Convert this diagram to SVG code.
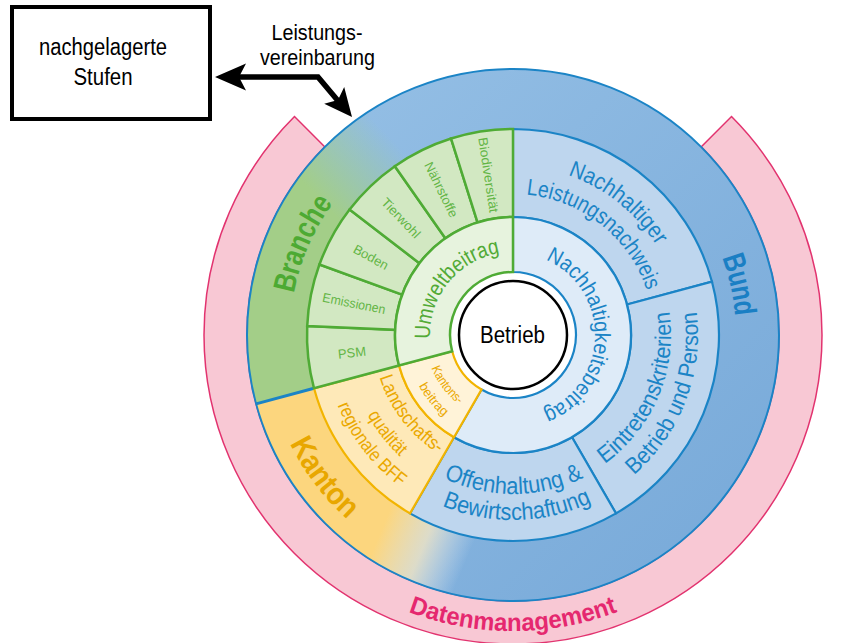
<svg xmlns="http://www.w3.org/2000/svg" width="843" height="643" viewBox="0 0 843 643">
<style>
text{font-family:'Liberation Sans Narrow','Liberation Sans',Arial,sans-serif;}
.bl{fill:#1b84c6}
.gr{fill:#52aa36}
.ye{fill:#eaa800}
.bold{font-weight:bold}
.sb{stroke:#1b84c6;stroke-width:2.2}
.sg{stroke:#4fab35;stroke-width:2.5}
.sy{stroke:#f2b400;stroke-width:2.2}
.small{font-size:13px;fill:#62b545;text-anchor:middle}
.mid{text-anchor:middle}
</style>
<defs>
<linearGradient id="gBlue" x1="0" y1="0" x2="1" y2="1">
<stop offset="0" stop-color="#97c1e6"/>
<stop offset="1" stop-color="#76a8d8"/>
</linearGradient>
<linearGradient id="gGreen" gradientUnits="userSpaceOnUse" x1="320" y1="200" x2="388" y2="135">
<stop offset="0" stop-color="#a3ce88" stop-opacity="1"/>
<stop offset="1" stop-color="#a3ce88" stop-opacity="0"/>
</linearGradient>
<linearGradient id="gYellow" gradientUnits="userSpaceOnUse" x1="381" y1="531" x2="464" y2="566">
<stop offset="0" stop-color="#fcd67e" stop-opacity="1"/>
<stop offset="0.5" stop-color="#f3e6c4" stop-opacity="0.8"/>
<stop offset="1" stop-color="#e8eef5" stop-opacity="0"/>
</linearGradient>
<path id="pBranche" d="M 299.18 398.34 A 223 223 0 0 1 413.50 135.43"/>
<path id="pBund" d="M 648.45 157.85 A 223 223 0 0 1 710.98 437.62"/>
<path id="pKanton" d="M 265.15 343.66 A 248 248 0 0 0 436.36 570.86"/>
<path id="pDaten" d="M 322.73 561.75 A 296 296 0 0 0 703.27 561.75"/>
<path id="pNL1" d="M 479.31 169.39 A 169 169 0 0 1 681.94 330.58"/>
<path id="pNL2" d="M 484.89 196.83 A 141 141 0 0 1 653.95 331.31"/>
<path id="pNB" d="M 528.65 254.51 A 82 82 0 0 1 525.83 415.99"/>
<path id="pUB" d="M 441.86 377.75 A 83 83 0 0 1 540.02 256.52"/>
<path id="pKB1" d="M 425.12 330.39 A 88 88 0 0 0 493.20 420.74"/>
<path id="pKB2" d="M 406.02 333.13 A 107 107 0 0 0 492.58 440.03"/>
<path id="pLQ1" d="M 373.12 329.14 A 140 140 0 0 0 482.94 471.73"/>
<path id="pLQ2" d="M 347.10 329.21 A 166 166 0 0 0 478.49 497.37"/>
<path id="pLQ3" d="M 324.17 327.09 A 189 189 0 0 0 472.42 519.59"/>
<path id="pEK1" d="M 559.19 486.10 A 158 158 0 0 0 653.78 263.27"/>
<path id="pEK2" d="M 573.23 509.92 A 185 185 0 0 0 674.80 245.31"/>
<path id="pOB1" d="M 391.74 437.84 A 159 159 0 0 0 635.31 436.60"/>
<path id="pOB2" d="M 374.02 457.10 A 185 185 0 0 0 657.38 450.67"/>
</defs>

<g id="box-nachgelagerte-stufen">
<rect x="12" y="7" width="198" height="112" fill="#ffffff" stroke="#000000" stroke-width="4"/>
<text x="103" y="55" font-size="23" class="mid" textLength="128" lengthAdjust="spacingAndGlyphs">nachgelagerte</text>
<text x="103" y="85" font-size="23" class="mid" textLength="59" lengthAdjust="spacingAndGlyphs">Stufen</text>
</g>

<g id="label-leistungsvereinbarung">
<text x="317" y="39.5" font-size="22" class="mid" textLength="91" lengthAdjust="spacingAndGlyphs">Leistungs-</text>
<text x="317.5" y="65" font-size="22" class="mid" textLength="115" lengthAdjust="spacingAndGlyphs">vereinbarung</text>
</g>

<g id="ring-datenmanagement">
<path d="M 731.5 116.5 A 309 309 0 1 1 294.5 116.5 L 324.9 146.9 A 266 266 0 1 0 701.1 146.9 Z" fill="#f8c8d4" stroke="#e2336f" stroke-width="1.5"/>
<text font-size="25" class="bold mid" fill="#e5286f"><textPath href="#pDaten" startOffset="50%" textLength="214" lengthAdjust="spacingAndGlyphs">Datenmanagement</textPath></text>
</g>

<g id="ring-akteure">
<circle cx="513" cy="335" r="266" fill="url(#gBlue)"/>
<path d="M 513 335 L 256.06 403.85 A 266 266 0 0 1 380 104.64 Z" fill="url(#gGreen)"/>
<path d="M 513 335 L 466.81 596.96 A 266 266 0 0 1 256.06 403.85 Z" fill="url(#gYellow)"/>
<circle cx="513" cy="335" r="266" fill="none" stroke="#1b84c6" stroke-width="2"/>
<line x1="314.02" y1="388.32" x2="256.06" y2="403.85" stroke="#1b84c6" stroke-width="3"/>
<text font-size="31" class="bold mid" fill="#4daa33"><textPath href="#pBranche" startOffset="50%" textLength="99" lengthAdjust="spacingAndGlyphs">Branche</textPath></text>
<text font-size="31" class="bold mid" fill="#1a7fc4"><textPath href="#pBund" startOffset="50%" textLength="60" lengthAdjust="spacingAndGlyphs">Bund</textPath></text>
<text font-size="31" class="bold mid" fill="#e8a700"><textPath href="#pKanton" startOffset="50%" textLength="96" lengthAdjust="spacingAndGlyphs">Kanton</textPath></text>
</g>

<g id="sector-nachhaltiger-leistungsnachweis">
<path d="M 513 129 A 206 206 0 0 1 711.98 281.68 L 626.98 304.46 A 118 118 0 0 0 513 217 Z" fill="#bed6ee" class="sb"/>
<text font-size="23" class="bl mid"><textPath href="#pNL1" startOffset="50%" textLength="115" lengthAdjust="spacingAndGlyphs">Nachhaltiger</textPath></text>
<text font-size="23" class="bl mid"><textPath href="#pNL2" startOffset="50%" textLength="163" lengthAdjust="spacingAndGlyphs">Leistungsnachweis</textPath></text>
</g>
<g id="sector-eintretenskriterien">
<path d="M 711.98 281.68 A 206 206 0 0 1 616 513.40 L 572 437.19 A 118 118 0 0 0 626.98 304.46 Z" fill="#bed6ee" class="sb"/>
<text font-size="23" class="bl mid"><textPath href="#pEK1" startOffset="50%" textLength="174" lengthAdjust="spacingAndGlyphs">Eintretenskriterien</textPath></text>
<text font-size="23" class="bl mid"><textPath href="#pEK2" startOffset="50%" textLength="182" lengthAdjust="spacingAndGlyphs">Betrieb und Person</textPath></text>
</g>
<g id="sector-offenhaltung">
<path d="M 616 513.40 A 206 206 0 0 1 410 513.40 L 454 437.19 A 118 118 0 0 0 572 437.19 Z" fill="#bed6ee" class="sb"/>
<text font-size="24" class="bl mid"><textPath href="#pOB1" startOffset="50%" textLength="145" lengthAdjust="spacingAndGlyphs">Offenhaltung &amp;</textPath></text>
<text font-size="24" class="bl mid"><textPath href="#pOB2" startOffset="50%" textLength="154" lengthAdjust="spacingAndGlyphs">Bewirtschaftung</textPath></text>
</g>
<g id="sector-landschaftsqualitaet">
<path d="M 410 513.40 A 206 206 0 0 1 314.02 388.32 L 399.02 365.54 A 118 118 0 0 0 454 437.19 Z" fill="#fee9b8" class="sy"/>
<text font-size="19" class="ye mid"><textPath href="#pLQ1" startOffset="50%" textLength="98" lengthAdjust="spacingAndGlyphs">Landschafts-</textPath></text>
<text font-size="19" class="ye mid"><textPath href="#pLQ2" startOffset="50%" textLength="53" lengthAdjust="spacingAndGlyphs">qualität</textPath></text>
<text font-size="19" class="ye mid"><textPath href="#pLQ3" startOffset="50%" textLength="104" lengthAdjust="spacingAndGlyphs">regionale BFF</textPath></text>
</g>
<g id="sector-psm">
<path d="M 314.02 388.32 A 206 206 0 0 1 307.20 326.01 L 395.11 329.85 A 118 118 0 0 0 399.02 365.54 Z" fill="#d2e8c2" class="sg"/>
<text class="small" transform="translate(351.96 352.64) rotate(-6.25)" x="0" y="4.5" textLength="28" lengthAdjust="spacingAndGlyphs">PSM</text>
</g>
<g id="sector-emissionen">
<path d="M 307.20 326.01 A 206 206 0 0 1 319.42 264.54 L 402.12 294.64 A 118 118 0 0 0 395.11 329.85 Z" fill="#d2e8c2" class="sg"/>
<text class="small" transform="translate(354.11 303.40) rotate(11.25)" x="0" y="4.5" textLength="64" lengthAdjust="spacingAndGlyphs">Emissionen</text>
</g>
<g id="sector-boden">
<path d="M 319.42 264.54 A 206 206 0 0 1 349.57 209.60 L 419.38 263.17 A 118 118 0 0 0 402.12 294.64 Z" fill="#d2e8c2" class="sg"/>
<text class="small" transform="translate(370.97 257.08) rotate(28.75)" x="0" y="4.5" textLength="38" lengthAdjust="spacingAndGlyphs">Boden</text>
</g>
<g id="sector-tierwohl">
<path d="M 349.57 209.60 A 206 206 0 0 1 394.84 166.25 L 445.32 238.34 A 118 118 0 0 0 419.38 263.17 Z" fill="#d2e8c2" class="sg"/>
<text class="small" transform="translate(400.98 217.98) rotate(46.25)" x="0" y="4.5" textLength="50" lengthAdjust="spacingAndGlyphs">Tierwohl</text>
</g>
<g id="sector-naehrstoffe">
<path d="M 394.84 166.25 A 206 206 0 0 1 451.05 138.53 L 477.52 222.46 A 118 118 0 0 0 445.32 238.34 Z" fill="#d2e8c2" class="sg"/>
<text class="small" transform="translate(441.35 189.71) rotate(63.75)" x="0" y="4.5" textLength="60" lengthAdjust="spacingAndGlyphs">Nährstoffe</text>
</g>
<g id="sector-biodiversitaet">
<path d="M 451.05 138.53 A 206 206 0 0 1 513 129 L 513 217 A 118 118 0 0 0 477.52 222.46 Z" fill="#d2e8c2" class="sg"/>
<text class="small" transform="translate(488.36 174.89) rotate(81.25)" x="0" y="4.5" textLength="76" lengthAdjust="spacingAndGlyphs">Biodiversität</text>
</g>

<circle cx="513" cy="335" r="63" fill="#ffffff"/>

<g id="sector-nachhaltigkeitsbeitrag">
<path d="M 513 217 A 118 118 0 1 1 454 437.19 L 481.5 389.56 A 63 63 0 1 0 513 272 Z" fill="#deebf8" class="sb"/>
<text font-size="22" class="bl mid"><textPath href="#pNB" startOffset="50%" textLength="193" lengthAdjust="spacingAndGlyphs">Nachhaltigkeitsbeitrag</textPath></text>
</g>
<g id="sector-kantonsbeitrag">
<path d="M 454 437.19 A 118 118 0 0 1 399.02 365.54 L 452.15 351.31 A 63 63 0 0 0 481.5 389.56 Z" fill="#fff3d8" class="sy"/>
<text font-size="13" class="ye mid"><textPath href="#pKB1" startOffset="50%" textLength="46" lengthAdjust="spacingAndGlyphs">Kantons-</textPath></text>
<text font-size="13" class="ye mid"><textPath href="#pKB2" startOffset="50%" textLength="40" lengthAdjust="spacingAndGlyphs">beitrag</textPath></text>
</g>
<g id="sector-umweltbeitrag">
<path d="M 399.02 365.54 A 118 118 0 0 1 513 217 L 513 272 A 63 63 0 0 0 452.15 351.31 Z" fill="#e7f3de" class="sg"/>
<text font-size="22" class="gr mid"><textPath href="#pUB" startOffset="50%" textLength="121" lengthAdjust="spacingAndGlyphs">Umweltbeitrag</textPath></text>
</g>

<g id="node-betrieb">
<circle cx="513" cy="335" r="54" fill="#ffffff" stroke="#000000" stroke-width="2.5"/>
<text x="512.5" y="342.5" font-size="23" class="mid" textLength="65" lengthAdjust="spacingAndGlyphs">Betrieb</text>
</g>

<g id="connectors">
<path d="M 238 77 H 318 L 339 102" fill="none" stroke="#000000" stroke-width="5.5" stroke-linejoin="miter"/>
<polygon points="215,77 246,63.5 239,77 246,90.5" fill="#000000"/>
<polygon points="352,117 324.2,103.7 338,100 344.2,87.1" fill="#000000"/>
</g>
</svg>
